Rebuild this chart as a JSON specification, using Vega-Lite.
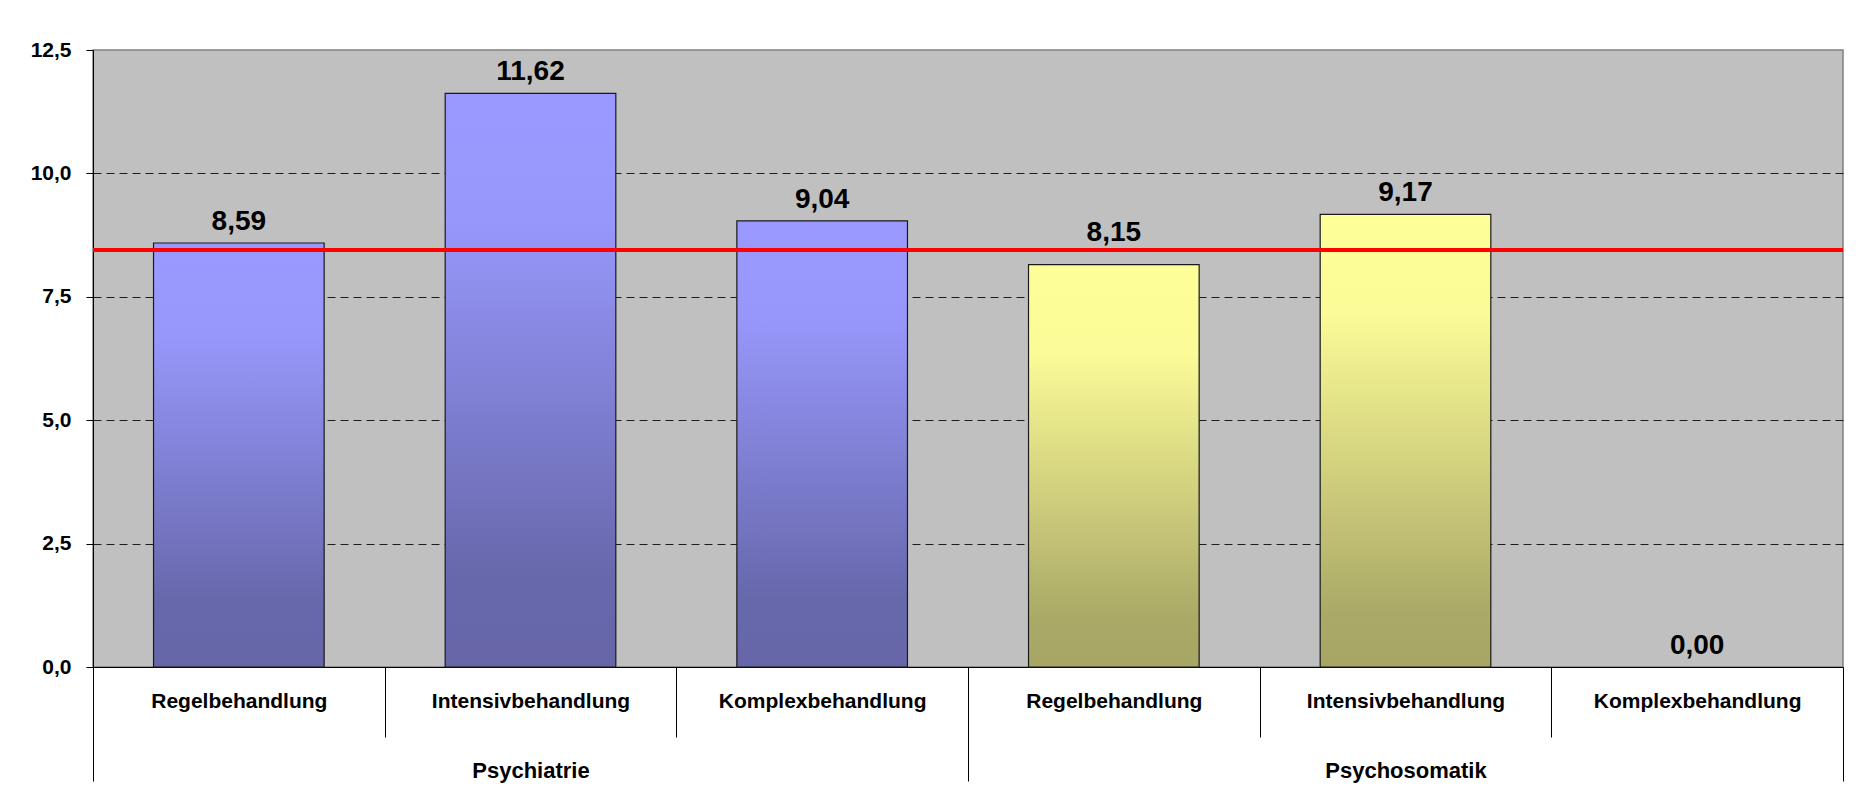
{
  "$schema": "https://vega.github.io/schema/vega-lite/v6.json",
  "width": 1750,
  "height": 617,
  "autosize": {"type": "none"},
  "padding": {"left": 93, "top": 50, "right": 22, "bottom": 127},
  "background": "#FFFFFF",
  "config": {
    "font": "Liberation Sans",
    "view": {"fill": "#C0C0C0", "stroke": "#808080", "strokeWidth": 1.5},
    "locale": {"number": {"decimal": ",", "thousands": ".", "grouping": [3], "currency": ["", " €"]}}
  },
  "datasets": {
    "bars": [
      {"group": "Psychiatrie", "category": "Regelbehandlung", "key": "Psychiatrie|Regelbehandlung", "value": 8.59},
      {"group": "Psychiatrie", "category": "Intensivbehandlung", "key": "Psychiatrie|Intensivbehandlung", "value": 11.62},
      {"group": "Psychiatrie", "category": "Komplexbehandlung", "key": "Psychiatrie|Komplexbehandlung", "value": 9.04},
      {"group": "Psychosomatik", "category": "Regelbehandlung", "key": "Psychosomatik|Regelbehandlung", "value": 8.15},
      {"group": "Psychosomatik", "category": "Intensivbehandlung", "key": "Psychosomatik|Intensivbehandlung", "value": 9.17},
      {"group": "Psychosomatik", "category": "Komplexbehandlung", "key": "Psychosomatik|Komplexbehandlung", "value": 0.0}
    ],
    "reference": [
      {"group": "Psychiatrie", "mean": 8.45},
      {"group": "Psychosomatik", "mean": 8.45}
    ]
  },
  "resolve": {"scale": {"x": "independent"}},
  "layer": [
    {
      "data": {"name": "bars"},
      "encoding": {
        "x": {
          "field": "key",
          "type": "nominal",
          "sort": null,
          "title": null,
          "scale": {"paddingInner": 0, "paddingOuter": 0},
          "axis": {
            "orient": "bottom",
            "labelExpr": "split(datum.value, '|')[1]",
            "labelAngle": 0,
            "labelLimit": 0,
            "labelFontSize": 21,
            "labelFontWeight": "bold",
            "labelColor": "#000000",
            "labelPadding": -47,
            "tickBand": "extent",
            "tickSize": 70,
            "tickColor": "#000000",
            "tickWidth": 1,
            "domainColor": "#000000",
            "domainWidth": 1,
            "grid": false
          }
        },
        "y": {
          "field": "value",
          "type": "quantitative",
          "title": null,
          "scale": {"domain": [0, 12.5], "nice": false, "zero": true},
          "axis": {
            "values": [0, 2.5, 5, 7.5, 10, 12.5],
            "format": ".1f",
            "labelFontSize": 21,
            "labelFontWeight": "bold",
            "labelColor": "#000000",
            "labelPadding": 15,
            "tickSize": 7,
            "tickColor": "#000000",
            "domainColor": "#000000",
            "domainWidth": 1,
            "grid": true,
            "gridColor": "#000000",
            "gridWidth": 1,
            "gridDash": [8, 5],
            "gridOpacity": {"condition": {"test": "datum.value <= 0 || datum.value >= 12.5", "value": 0}, "value": 0.85}
          }
        }
      },
      "layer": [
        {
          "mark": {"type": "bar", "stroke": "#1A1A1A", "strokeWidth": 1.2, "width": {"band": 0.585}},
          "encoding": {
            "strokeOpacity": {"condition": {"test": "datum.value <= 0", "value": 0}, "value": 1},
            "color": {
              "condition": {
                "test": "datum.group === 'Psychiatrie'",
                "value": {"gradient": "linear", "x1": 0, "y1": 0, "x2": 0, "y2": 1,
                  "stops": [{"offset": 0, "color": "#9999FF"}, {"offset": 0.22, "color": "#9797FB"}, {"offset": 0.85, "color": "#6767AB"}, {"offset": 1, "color": "#6666A9"}]}
              },
              "value": {"gradient": "linear", "x1": 0, "y1": 0, "x2": 0, "y2": 1,
                "stops": [{"offset": 0, "color": "#FFFF99"}, {"offset": 0.22, "color": "#FBFB97"}, {"offset": 0.88, "color": "#AAA967"}, {"offset": 1, "color": "#A8A664"}]}
            }
          }
        },
        {
          "transform": [{"filter": "!(datum.value > 7.5 && datum.value < 8.45)"}],
          "mark": {"type": "text", "fontSize": 28, "fontWeight": "bold", "baseline": "alphabetic", "dy": -13, "color": "#000000"},
          "encoding": {
            "text": {"field": "value", "type": "quantitative", "format": ".2f"}
          }
        },
        {
          "transform": [{"filter": "datum.value > 7.5 && datum.value < 8.45"}],
          "mark": {"type": "text", "fontSize": 28, "fontWeight": "bold", "baseline": "alphabetic", "dy": -24, "color": "#000000"},
          "encoding": {
            "text": {"field": "value", "type": "quantitative", "format": ".2f"}
          }
        }
      ]
    },
    {
      "data": {"name": "reference"},
      "mark": {"type": "bar", "filled": false, "color": "#FF0000", "strokeWidth": 4},
      "encoding": {
        "x": {
          "field": "group",
          "type": "nominal",
          "sort": null,
          "title": null,
          "scale": {"paddingInner": 0, "paddingOuter": 0},
          "axis": {
            "orient": "bottom",
            "domain": false,
            "labelAngle": 0,
            "labelLimit": 0,
            "labelFontSize": 22,
            "labelFontWeight": "bold",
            "labelColor": "#000000",
            "labelPadding": -21,
            "tickBand": "extent",
            "tickSize": 114,
            "tickColor": "#000000",
            "tickWidth": 1,
            "grid": false
          }
        },
        "y": {"field": "mean", "type": "quantitative", "title": null},
        "y2": {"field": "mean"}
      }
    }
  ]
}
